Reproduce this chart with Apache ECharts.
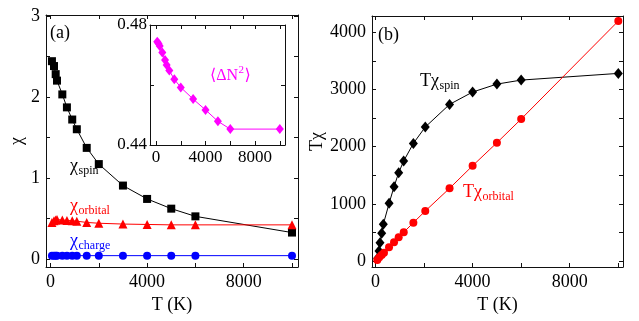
<!DOCTYPE html>
<html>
<head>
<meta charset="utf-8">
<script src="https://cdn.jsdelivr.net/npm/echarts@6/dist/echarts.min.js"></script>
<style>html,body{margin:0;padding:0;background:#fff}#c{width:639px;height:321px}</style>
</head>
<body>
<div id="c"></div>
<script>
// ---- data ----
const tA = [60,145,215,270,490,680,900,1090,1500,2000,3000,4000,5000,6000,10000];
const chiSpin = [2.44,2.38,2.28,2.20,2.03,1.87,1.72,1.60,1.37,1.17,0.905,0.74,0.62,0.525,0.325];
const chiOrbital = [0.45,0.47,0.48,0.485,0.48,0.475,0.47,0.465,0.45,0.44,0.43,0.425,0.42,0.42,0.42];
const chiCharge = [0.04,0.04,0.04,0.04,0.04,0.04,0.04,0.04,0.04,0.04,0.04,0.04,0.04,0.04,0.04];

const tInset = [100,200,300,510,730,860,1075,1480,2000,3000,4000,5000,6000,10000];
const dN2 = [0.4744,0.4738,0.4730,0.4708,0.4683,0.4667,0.4648,0.4619,0.4592,0.4553,0.4517,0.4479,0.4453,0.4453];

const tBspin = [90,144,185,255,322,560,765,955,1160,1560,2050,3050,4000,5000,6000,10000];
const tChiSpin = [50,175,320,484,642,1008,1300,1545,1748,2057,2343,2739,2955,3094,3164,3281];
const tBorb = [75,157,255,350,557,763,955,1163,1560,2050,3050,4000,5000,6000,10000];
const tChiOrb = [17,65,105,145,240,327,414,502,670,874,1271,1666,2068,2483,4196];

const tLabels = [0,4000,8000];
const tTicks = [0,2000,4000,6000,8000,10000];
const chiLabels = [0,1,2,3];
const chiTicks = [0,0.5,1,1.5,2,2.5,3];
const tchiLabels = [0,1000,2000,3000,4000];
const tchiTicks = [0,500,1000,1500,2000,2500,3000,3500,4000];
const insetYLabels = [0.44,0.48];
const insetYTicks = [0.44,0.46,0.48];

const FONT = "'Liberation Serif', 'Times New Roman', 'DejaVu Serif', serif";
const zip = (xs, ys) => xs.map((x, i) => [x, ys[i]]);
const fmt = v => String(v);

function axis(kind, grid, pos, min, max, labels, ticks, showLabels, fs, extra, margin) {
  return Object.assign({
    type: 'value', gridIndex: grid, position: pos, min: min, max: max,
    axisLine: {show: true, onZero: false, lineStyle: {color: '#111', width: 1}},
    axisTick: {show: true, inside: true, length: 4, customValues: ticks, lineStyle: {color: '#111', width: 1}},
    axisLabel: {show: showLabels, customValues: labels, formatter: fmt, color: '#000', fontFamily: FONT, fontSize: fs,
      margin: margin == null ? 6 : margin},
    splitLine: {show: false}
  }, extra || {});
}

const chart = echarts.init(document.getElementById('c'), null, {renderer: 'canvas'});

const ctx = document.createElement('canvas').getContext('2d');
function w(text, size) { ctx.font = size + 'px ' + FONT; return ctx.measureText(text).width; }
function f(size) { return size + 'px ' + FONT; }

function subLabel(x, y, main, sub, color, ms, ss) {
  const mw = w(main, ms);
  return [
    {type: 'text', x: x, y: y, z: 100, style: {text: main, fill: color, font: f(ms), textAlign: 'left', textVerticalAlign: 'middle'}},
    {type: 'text', x: x + mw + 0.5, y: y + 5, z: 100, style: {text: sub, fill: color, font: f(ss), textAlign: 'left', textVerticalAlign: 'middle'}}
  ];
}

const graphics = [].concat(
  [{type: 'text', x: 50, y: 33, z: 100, style: {text: '(a)', fill: '#000', font: f(18), textVerticalAlign: 'middle'}},
   {type: 'text', x: 378, y: 35, z: 100, style: {text: '(b)', fill: '#000', font: f(18), textVerticalAlign: 'middle'}}],
  subLabel(70, 166, 'χ', 'spin', '#000', 18, 12),
  subLabel(70, 206, 'χ', 'orbital', '#ff0000', 18, 12),
  subLabel(70, 241, 'χ', 'charge', '#0000ff', 18, 12),
  subLabel(420, 81, 'Tχ', 'spin', '#000', 18, 12),
  subLabel(463, 192, 'Tχ', 'orbital', '#ff0000', 18, 12),
  [{type: 'text', x: 210, y: 76, z: 100, style: {text: '⟨ΔN', fill: '#ff00ff', font: f(16), textVerticalAlign: 'middle'}},
   {type: 'text', x: 210 + w('⟨ΔN', 16) + 0.5, y: 70, z: 100, style: {text: '2', fill: '#ff00ff', font: f(11), textVerticalAlign: 'middle'}},
   {type: 'text', x: 210 + w('⟨ΔN', 16) + w('2', 11) + 1, y: 76, z: 100, style: {text: '⟩', fill: '#ff00ff', font: f(16), textVerticalAlign: 'middle'}}]
);

const nameStyle = {color: '#000', fontFamily: FONT, fontSize: 18};

chart.setOption({
  animation: false,
  backgroundColor: '#fff',
  textStyle: {fontFamily: FONT},
  grid: [
    {left: 46, top: 15, width: 252, height: 252},
    {left: 372, top: 16, width: 251, height: 251},
    {left: 150, top: 25, width: 135, height: 120, show: true, backgroundColor: '#fff', borderWidth: 0, z: 5}
  ],
  xAxis: [
    axis('x', 0, 'bottom', -186, 10248, tLabels, tTicks, true, 18, {name: 'T (K)', nameLocation: 'middle', nameGap: 22, nameTextStyle: nameStyle}),
    axis('x', 0, 'top', -186, 10248, tLabels, tTicks, false, 18),
    axis('x', 1, 'bottom', -144, 10194, tLabels, tTicks, true, 18, {name: 'T (K)', nameLocation: 'middle', nameGap: 22, nameTextStyle: nameStyle}),
    axis('x', 1, 'top', -144, 10194, tLabels, tTicks, false, 18),
    axis('x', 2, 'bottom', -485, 10420, tLabels, tTicks, true, 17, {z: 6}, 4),
    axis('x', 2, 'top', -485, 10420, tLabels, tTicks, false, 17, {z: 6})
  ],
  yAxis: [
    axis('y', 0, 'left', -0.1, 3.01, chiLabels, chiTicks, true, 18, {name: 'χ', nameLocation: 'middle', nameGap: 20, nameTextStyle: nameStyle}),
    axis('y', 0, 'right', -0.1, 3.01, chiLabels, chiTicks, false, 18),
    axis('y', 1, 'left', -105, 4285, tchiLabels, tchiTicks, true, 18, {name: 'Tχ', nameLocation: 'middle', nameGap: 44, nameTextStyle: nameStyle}),
    axis('y', 1, 'right', -105, 4285, tchiLabels, tchiTicks, false, 18),
    axis('y', 2, 'left', 0.44, 0.48, insetYLabels, insetYTicks, true, 17, {z: 6}, 3),
    axis('y', 2, 'right', 0.44, 0.48, insetYLabels, insetYTicks, false, 17, {z: 6})
  ],
  series: [
    {type: 'line', xAxisIndex: 0, yAxisIndex: 0, data: zip(tA, chiSpin), symbol: 'rect', symbolSize: 8,
     itemStyle: {color: '#000'}, lineStyle: {color: '#000', width: 1}},
    {type: 'line', xAxisIndex: 0, yAxisIndex: 0, data: zip(tA, chiOrbital), symbol: 'triangle', symbolSize: 9,
     itemStyle: {color: '#ff0000'}, lineStyle: {color: '#ff0000', width: 1}},
    {type: 'line', xAxisIndex: 0, yAxisIndex: 0, data: zip(tA, chiCharge), symbol: 'circle', symbolSize: 8,
     itemStyle: {color: '#0000ff'}, lineStyle: {color: '#0000ff', width: 1}},
    {type: 'line', xAxisIndex: 2, yAxisIndex: 2, data: zip(tBspin, tChiSpin), symbol: 'diamond', symbolSize: [9, 11],
     itemStyle: {color: '#000'}, lineStyle: {color: '#000', width: 1}},
    {type: 'line', xAxisIndex: 2, yAxisIndex: 2, data: zip(tBorb, tChiOrb), symbol: 'circle', symbolSize: 8,
     itemStyle: {color: '#ff0000'}, lineStyle: {color: '#ff0000', width: 1}},
    {type: 'line', xAxisIndex: 4, yAxisIndex: 4, data: zip(tInset, dN2), symbol: 'diamond', symbolSize: [8, 10], z: 7,
     itemStyle: {color: '#ff00ff'}, lineStyle: {color: '#ff00ff', width: 1}}
  ],
  graphic: graphics
});
</script>
</body>
</html>
